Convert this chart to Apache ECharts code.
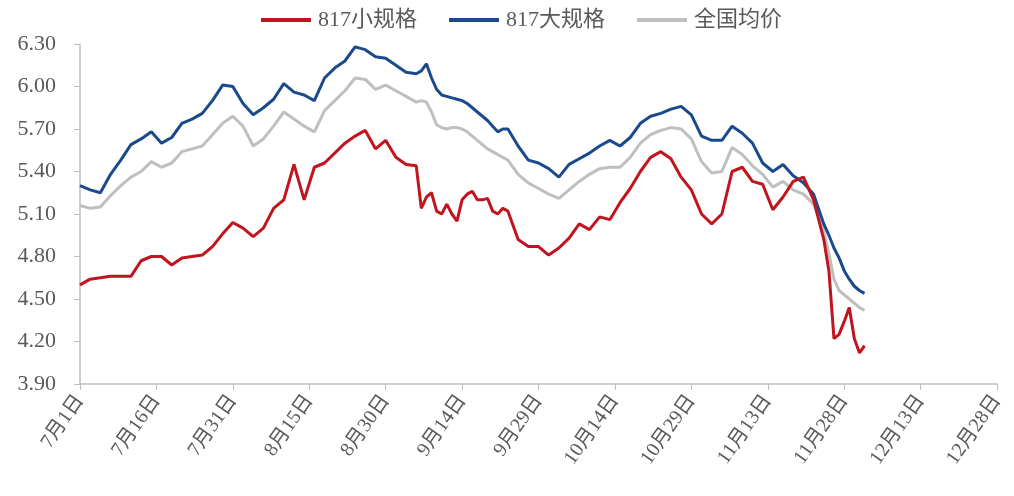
<!DOCTYPE html>
<html><head><meta charset="utf-8">
<script src="https://cdn.jsdelivr.net/npm/echarts@6/dist/echarts.min.js"></script>
<style>html,body{margin:0;padding:0;background:#fff}#c{width:1014px;height:496px}</style>
</head><body><div id="c"></div>
<script>
// day offsets from 7月1日
var days = [0,2,4,6,8,10,12,14,16,18,20,22,24,26,28,30,32,34,36,38,40,42,44,46,48,50,52,54,56,58,60,62,64,66,67,68,69,70,71,72,73,74,75,76,77,78,79,80,81,82,83,84,86,88,90,92,94,96,98,100,102,104,106,108,110,112,114,116,118,120,122,124,126,128,130,132,134,136,138,140,142,144,146,147,148,149,150,151,152,153,154];
var small = [4.60,4.64,4.65,4.66,4.66,4.66,4.77,4.80,4.80,4.74,4.79,4.80,4.81,4.87,4.96,5.04,5.00,4.94,5.00,5.14,5.20,5.45,5.20,5.43,5.46,5.53,5.60,5.65,5.69,5.56,5.62,5.50,5.45,5.44,5.14,5.22,5.25,5.12,5.10,5.17,5.10,5.05,5.20,5.24,5.26,5.20,5.20,5.21,5.12,5.10,5.14,5.12,4.92,4.87,4.87,4.81,4.86,4.93,5.03,4.99,5.08,5.06,5.18,5.28,5.40,5.50,5.54,5.49,5.36,5.27,5.10,5.03,5.10,5.40,5.43,5.33,5.31,5.13,5.22,5.33,5.36,5.20,4.92,4.70,4.22,4.25,4.34,4.44,4.22,4.12,4.17];
var large = [5.30,5.27,5.25,5.38,5.48,5.59,5.63,5.68,5.60,5.64,5.74,5.77,5.81,5.90,6.01,6.00,5.88,5.80,5.85,5.91,6.02,5.96,5.94,5.90,6.06,6.13,6.18,6.28,6.26,6.21,6.20,6.15,6.10,6.09,6.11,6.16,6.06,5.98,5.94,5.93,5.92,5.91,5.90,5.88,5.85,5.82,5.79,5.76,5.72,5.68,5.70,5.70,5.58,5.48,5.46,5.42,5.36,5.45,5.49,5.53,5.58,5.62,5.58,5.64,5.74,5.79,5.81,5.84,5.86,5.80,5.65,5.62,5.62,5.72,5.67,5.60,5.46,5.40,5.45,5.37,5.32,5.24,5.03,4.95,4.86,4.79,4.70,4.64,4.59,4.56,4.54];
var avg = [5.16,5.14,5.15,5.23,5.30,5.36,5.40,5.47,5.43,5.46,5.54,5.56,5.58,5.66,5.74,5.79,5.72,5.58,5.63,5.72,5.82,5.77,5.72,5.68,5.83,5.90,5.97,6.06,6.05,5.98,6.01,5.97,5.93,5.89,5.90,5.89,5.82,5.73,5.71,5.70,5.71,5.71,5.70,5.68,5.65,5.62,5.59,5.56,5.54,5.52,5.50,5.48,5.38,5.32,5.28,5.24,5.21,5.27,5.33,5.38,5.42,5.43,5.43,5.50,5.60,5.66,5.69,5.71,5.70,5.63,5.47,5.39,5.40,5.57,5.52,5.44,5.38,5.29,5.33,5.27,5.24,5.17,4.98,4.82,4.64,4.56,4.53,4.50,4.47,4.44,4.42];
var tickLabels = ['7月1日','7月16日','7月31日','8月15日','8月30日','9月14日','9月29日','10月14日','10月29日','11月13日','11月28日','12月13日','12月28日'];
var names = ['817小规格','817大规格','全国均价'];

function pairs(vals){ return days.map(function(d,i){ return [d, vals[i]]; }); }
var FONT = '"Liberation Serif","Noto Sans CJK SC",serif';
var chart = echarts.init(document.getElementById('c'));
chart.setOption({
  animation:false,
  backgroundColor:'#fff',
  legend:{
    top:4, left:256, itemWidth:50, itemHeight:4, itemGap:32,
    icon:'rect',
    textStyle:{fontFamily:FONT, fontSize:22, color:'#595959', padding:[0,0,0,2]},
    data:names
  },
  grid:{left:80, right:17, top:44, bottom:112},
  xAxis:{
    type:'value', min:0, max:180, interval:15,
    axisLine:{lineStyle:{color:'#bfbfbf', width:1.5}},
    axisTick:{show:true, length:6, lineStyle:{color:'#bfbfbf'}},
    splitLine:{show:false},
    axisLabel:{rotate:55, margin:13, fontFamily:FONT, fontSize:20, color:'#595959',
      formatter:function(v){ return tickLabels[Math.round(v/15)] || ''; }}
  },
  yAxis:{
    type:'value', min:3.9, max:6.3, interval:0.3,
    axisLine:{show:true, lineStyle:{color:'#bfbfbf', width:1.5}},
    axisTick:{show:true, length:6, lineStyle:{color:'#bfbfbf'}},
    splitLine:{show:false},
    axisLabel:{margin:24, fontFamily:FONT, fontSize:22, color:'#595959',
      formatter:function(v){ return v.toFixed(2); }}
  },
  series:[
    {name:names[0], type:'line', data:pairs(small), showSymbol:false,
      lineStyle:{color:'#c0141e', width:3}, itemStyle:{color:'#c0141e'}, z:3},
    {name:names[1], type:'line', data:pairs(large), showSymbol:false,
      lineStyle:{color:'#1a4a8c', width:3}, itemStyle:{color:'#1a4a8c'}, z:2},
    {name:names[2], type:'line', data:pairs(avg), showSymbol:false,
      lineStyle:{color:'#bfbfbf', width:3}, itemStyle:{color:'#bfbfbf'}, z:1}
  ]
});
</script></body></html>
